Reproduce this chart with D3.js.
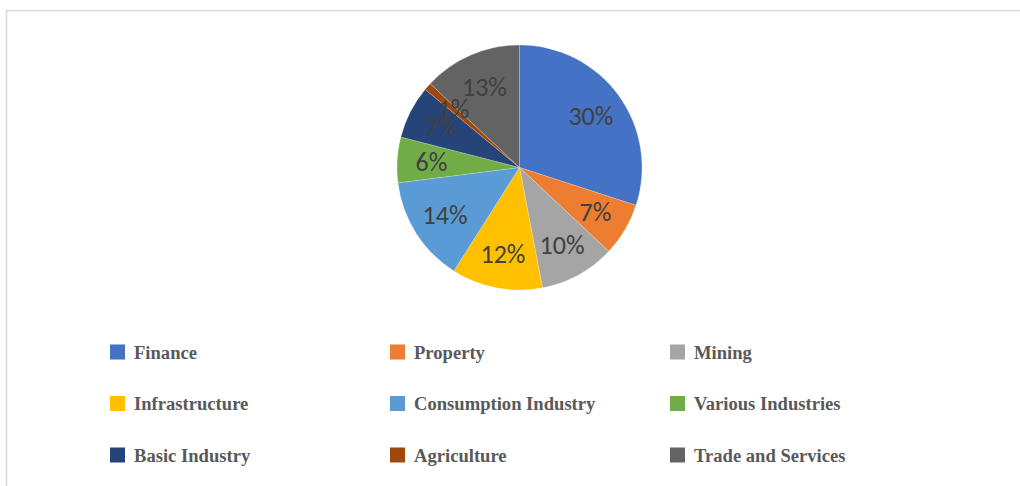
<!DOCTYPE html>
<html>
<head>
<meta charset="utf-8">
<script src="https://cdn.jsdelivr.net/npm/d3@7/dist/d3.min.js"></script>
<style>
  html, body { margin: 0; padding: 0; background: #ffffff; }
  svg { display: block; }
</style>
</head>
<body>
<svg id="chart" width="1020" height="486"></svg>
<script>
const categories = ["Finance", "Property", "Mining", "Infrastructure", "Consumption Industry",
                    "Various Industries", "Basic Industry", "Agriculture", "Trade and Services"];
const values = [30, 7, 10, 12, 14, 6, 7, 1, 13];
const colors = ["#4472C4", "#ED7D31", "#A5A5A5", "#FFC000", "#5B9BD5",
                "#70AD47", "#264478", "#9E480E", "#636363"];

const W = 1020, H = 486;
const svg = d3.select("#chart");

// frame
svg.append("path")
  .attr("d", `M6.5,${H} V10.5 H${W}`)
  .attr("fill", "none")
  .attr("stroke", "#d9d9d9")
  .attr("stroke-width", 1.5);

const cx = 519.5, cy = 167.5, r = 122.5;
const g = svg.append("g").attr("transform", `translate(${cx},${cy})`);

const pie = d3.pie().value(d => d).sort(null);
const arcs = pie(values);
const arc = d3.arc().innerRadius(0).outerRadius(r);
const labelArc = d3.arc().innerRadius(r * 0.72).outerRadius(r * 0.72);

g.selectAll("path.slice")
  .data(arcs)
  .join("path")
  .attr("class", "slice")
  .attr("d", arc)
  .attr("fill", (d, i) => colors[i])
  .attr("stroke", "rgba(255,255,255,0.35)")
  .attr("stroke-width", 0.6);

g.selectAll("text.lbl")
  .data(arcs)
  .join("text")
  .attr("class", "lbl")
  .attr("transform", d => `translate(${labelArc.centroid(d)})`)
  .attr("text-anchor", "middle")
  .attr("dominant-baseline", "central")
  .attr("font-family", "Carlito, Lato, 'Liberation Sans', sans-serif")
  .attr("font-size", 26)
  .attr("fill", "#404040")
  .text(d => d.data + "%");

// legend
const colX = d3.scalePoint().domain([0, 1, 2]).range([110, 670]);
const rowY = d3.scalePoint().domain([0, 1, 2]).range([352, 455]);
const leg = svg.append("g");
const items = leg.selectAll("g.item")
  .data(categories)
  .join("g")
  .attr("class", "item")
  .attr("transform", (d, i) => `translate(${colX(i % 3)},${rowY(Math.floor(i / 3))})`);
items.append("rect")
  .attr("x", 0).attr("y", -7.5)
  .attr("width", 15).attr("height", 15)
  .attr("fill", (d, i) => colors[i]);
items.append("text")
  .attr("x", 24).attr("y", 0)
  .attr("dominant-baseline", "central")
  .attr("font-family", "'Liberation Serif', 'Times New Roman', serif")
  .attr("font-weight", "bold")
  .attr("font-size", 18.6)
  .attr("fill", "#595959")
  .text(d => d);
</script>
</body>
</html>
